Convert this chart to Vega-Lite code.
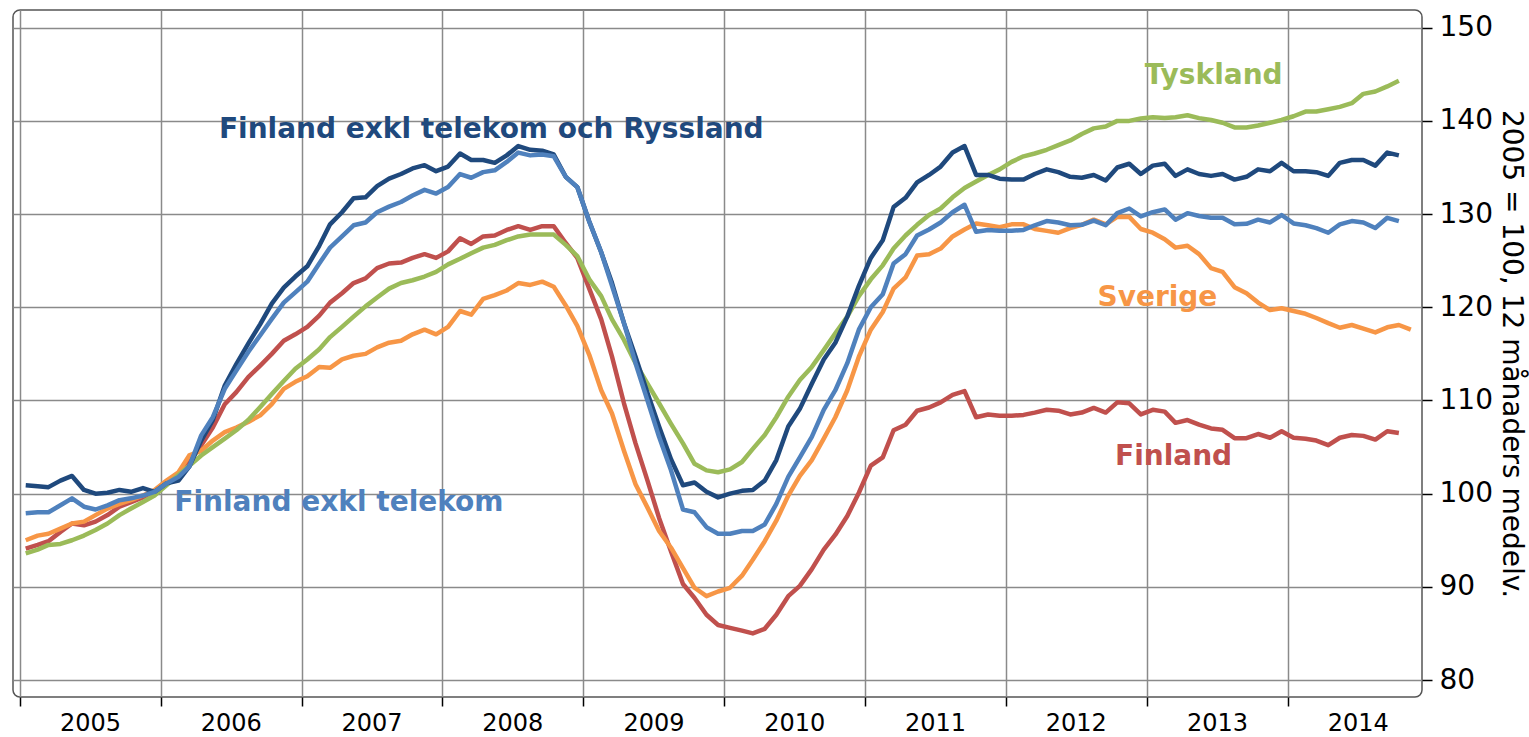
{
 "$schema": "https://vega.github.io/schema/vega-lite/v6.json",
 "width": 1409,
 "height": 687,
 "autosize": {"type": "none"},
 "padding": {"left": 13, "top": 10, "right": 107, "bottom": 40},
 "background": "white",
 "config": {"view": {"stroke": "#555555", "strokeWidth": 1.5, "cornerRadius": 7}, "font": "DejaVu Sans"},
 "datasets": {
  "fi": [
   {"d":"2005-01-16","v":94.1},{"d":"2005-02-16","v":94.5},{"d":"2005-03-16","v":94.9},{"d":"2005-04-16","v":95.9},{"d":"2005-05-16","v":96.8},{"d":"2005-06-16","v":96.6},{"d":"2005-07-16","v":97.0},{"d":"2005-08-16","v":97.7},{"d":"2005-09-16","v":98.6},{"d":"2005-10-16","v":99.1},{"d":"2005-11-16","v":99.6},{"d":"2005-12-16","v":100.3},
   {"d":"2006-01-16","v":101.1},{"d":"2006-02-16","v":102.0},{"d":"2006-03-16","v":103.4},{"d":"2006-04-16","v":105.2},{"d":"2006-05-16","v":107.1},{"d":"2006-06-16","v":109.6},{"d":"2006-07-16","v":110.9},{"d":"2006-08-16","v":112.5},{"d":"2006-09-16","v":113.75},{"d":"2006-10-16","v":115.0},{"d":"2006-11-16","v":116.4},{"d":"2006-12-16","v":117.1},
   {"d":"2007-01-16","v":117.9},{"d":"2007-02-16","v":119.1},{"d":"2007-03-16","v":120.5},{"d":"2007-04-16","v":121.5},{"d":"2007-05-16","v":122.6},{"d":"2007-06-16","v":123.1},{"d":"2007-07-16","v":124.2},{"d":"2007-08-16","v":124.7},{"d":"2007-09-16","v":124.8},{"d":"2007-10-16","v":125.3},{"d":"2007-11-16","v":125.7},{"d":"2007-12-16","v":125.3},
   {"d":"2008-01-16","v":126.0},{"d":"2008-02-16","v":127.4},{"d":"2008-03-16","v":126.8},{"d":"2008-04-16","v":127.6},{"d":"2008-05-16","v":127.7},{"d":"2008-06-16","v":128.3},{"d":"2008-07-16","v":128.7},{"d":"2008-08-16","v":128.3},{"d":"2008-09-16","v":128.7},{"d":"2008-10-16","v":128.7},{"d":"2008-11-16","v":126.9},{"d":"2008-12-16","v":125.3},
   {"d":"2009-01-16","v":122.0},{"d":"2009-02-16","v":118.7},{"d":"2009-03-16","v":114.7},{"d":"2009-04-16","v":109.7},{"d":"2009-05-16","v":105.4},{"d":"2009-06-16","v":101.4},{"d":"2009-07-16","v":97.4},{"d":"2009-08-16","v":93.8},{"d":"2009-09-16","v":90.3},{"d":"2009-10-16","v":88.8},{"d":"2009-11-16","v":87.0},{"d":"2009-12-16","v":85.9},
   {"d":"2010-01-16","v":85.6},{"d":"2010-02-16","v":85.3},{"d":"2010-03-16","v":85.0},{"d":"2010-04-16","v":85.5},{"d":"2010-05-16","v":87.0},{"d":"2010-06-16","v":89.0},{"d":"2010-07-16","v":90.1},{"d":"2010-08-16","v":91.9},{"d":"2010-09-16","v":94.0},{"d":"2010-10-16","v":95.6},{"d":"2010-11-16","v":97.6},{"d":"2010-12-16","v":100.1},
   {"d":"2011-01-16","v":103.0},{"d":"2011-02-16","v":103.9},{"d":"2011-03-16","v":106.8},{"d":"2011-04-16","v":107.4},{"d":"2011-05-16","v":108.9},{"d":"2011-06-16","v":109.25},{"d":"2011-07-16","v":109.8},{"d":"2011-08-16","v":110.6},{"d":"2011-09-16","v":111.0},{"d":"2011-10-16","v":108.2},{"d":"2011-11-16","v":108.5},{"d":"2011-12-16","v":108.35},
   {"d":"2012-01-16","v":108.35},{"d":"2012-02-16","v":108.45},{"d":"2012-03-16","v":108.7},{"d":"2012-04-16","v":109.0},{"d":"2012-05-16","v":108.9},{"d":"2012-06-16","v":108.5},{"d":"2012-07-16","v":108.7},{"d":"2012-08-16","v":109.2},{"d":"2012-09-16","v":108.7},{"d":"2012-10-16","v":109.8},{"d":"2012-11-16","v":109.7},{"d":"2012-12-16","v":108.5},
   {"d":"2013-01-16","v":109.0},{"d":"2013-02-16","v":108.8},{"d":"2013-03-16","v":107.6},{"d":"2013-04-16","v":107.9},{"d":"2013-05-16","v":107.4},{"d":"2013-06-16","v":107.0},{"d":"2013-07-16","v":106.85},{"d":"2013-08-16","v":105.95},{"d":"2013-09-16","v":105.95},{"d":"2013-10-16","v":106.4},{"d":"2013-11-16","v":106.0},{"d":"2013-12-16","v":106.7},
   {"d":"2014-01-16","v":106.0},{"d":"2014-02-16","v":105.9},{"d":"2014-03-16","v":105.7},{"d":"2014-04-16","v":105.2},{"d":"2014-05-16","v":106.0},{"d":"2014-06-16","v":106.3},{"d":"2014-07-16","v":106.2},{"d":"2014-08-16","v":105.8},{"d":"2014-09-16","v":106.7},{"d":"2014-10-16","v":106.5}
  ],
  "se": [
   {"d":"2005-01-16","v":95.0},{"d":"2005-02-16","v":95.5},{"d":"2005-03-16","v":95.7},{"d":"2005-04-16","v":96.25},{"d":"2005-05-16","v":96.8},{"d":"2005-06-16","v":97.0},{"d":"2005-07-16","v":97.7},{"d":"2005-08-16","v":98.4},{"d":"2005-09-16","v":98.9},{"d":"2005-10-16","v":99.3},{"d":"2005-11-16","v":99.8},{"d":"2005-12-16","v":100.4},
   {"d":"2006-01-16","v":101.4},{"d":"2006-02-16","v":102.3},{"d":"2006-03-16","v":104.1},{"d":"2006-04-16","v":104.6},{"d":"2006-05-16","v":105.7},{"d":"2006-06-16","v":106.6},{"d":"2006-07-16","v":107.1},{"d":"2006-08-16","v":107.7},{"d":"2006-09-16","v":108.4},{"d":"2006-10-16","v":109.6},{"d":"2006-11-16","v":111.25},{"d":"2006-12-16","v":112.0},
   {"d":"2007-01-16","v":112.6},{"d":"2007-02-16","v":113.6},{"d":"2007-03-16","v":113.5},{"d":"2007-04-16","v":114.4},{"d":"2007-05-16","v":114.8},{"d":"2007-06-16","v":115.0},{"d":"2007-07-16","v":115.7},{"d":"2007-08-16","v":116.2},{"d":"2007-09-16","v":116.4},{"d":"2007-10-16","v":117.1},{"d":"2007-11-16","v":117.6},{"d":"2007-12-16","v":117.1},
   {"d":"2008-01-16","v":117.9},{"d":"2008-02-16","v":119.6},{"d":"2008-03-16","v":119.2},{"d":"2008-04-16","v":120.9},{"d":"2008-05-16","v":121.3},{"d":"2008-06-16","v":121.8},{"d":"2008-07-16","v":122.6},{"d":"2008-08-16","v":122.4},{"d":"2008-09-16","v":122.75},{"d":"2008-10-16","v":122.2},{"d":"2008-11-16","v":120.2},{"d":"2008-12-16","v":118.0},
   {"d":"2009-01-16","v":114.9},{"d":"2009-02-16","v":111.1},{"d":"2009-03-16","v":108.6},{"d":"2009-04-16","v":104.6},{"d":"2009-05-16","v":101.0},{"d":"2009-06-16","v":98.5},{"d":"2009-07-16","v":96.0},{"d":"2009-08-16","v":94.2},{"d":"2009-09-16","v":92.0},{"d":"2009-10-16","v":89.9},{"d":"2009-11-16","v":89.0},{"d":"2009-12-16","v":89.5},
   {"d":"2010-01-16","v":89.9},{"d":"2010-02-16","v":91.2},{"d":"2010-03-16","v":92.9},{"d":"2010-04-16","v":94.9},{"d":"2010-05-16","v":97.1},{"d":"2010-06-16","v":99.8},{"d":"2010-07-16","v":101.9},{"d":"2010-08-16","v":103.6},{"d":"2010-09-16","v":105.9},{"d":"2010-10-16","v":108.2},{"d":"2010-11-16","v":111.1},{"d":"2010-12-16","v":114.7},
   {"d":"2011-01-16","v":117.6},{"d":"2011-02-16","v":119.5},{"d":"2011-03-16","v":122.0},{"d":"2011-04-16","v":123.2},{"d":"2011-05-16","v":125.55},{"d":"2011-06-16","v":125.7},{"d":"2011-07-16","v":126.3},{"d":"2011-08-16","v":127.6},{"d":"2011-09-16","v":128.35},{"d":"2011-10-16","v":129.0},{"d":"2011-11-16","v":128.8},{"d":"2011-12-16","v":128.6},
   {"d":"2012-01-16","v":128.9},{"d":"2012-02-16","v":128.9},{"d":"2012-03-16","v":128.4},{"d":"2012-04-16","v":128.2},{"d":"2012-05-16","v":128.0},{"d":"2012-06-16","v":128.5},{"d":"2012-07-16","v":128.85},{"d":"2012-08-16","v":129.4},{"d":"2012-09-16","v":128.9},{"d":"2012-10-16","v":129.7},{"d":"2012-11-16","v":129.7},{"d":"2012-12-16","v":128.4},
   {"d":"2013-01-16","v":128.0},{"d":"2013-02-16","v":127.3},{"d":"2013-03-16","v":126.4},{"d":"2013-04-16","v":126.6},{"d":"2013-05-16","v":125.7},{"d":"2013-06-16","v":124.2},{"d":"2013-07-16","v":123.8},{"d":"2013-08-16","v":122.15},{"d":"2013-09-16","v":121.5},{"d":"2013-10-16","v":120.5},{"d":"2013-11-16","v":119.7},{"d":"2013-12-16","v":119.9},
   {"d":"2014-01-16","v":119.6},{"d":"2014-02-16","v":119.3},{"d":"2014-03-16","v":118.85},{"d":"2014-04-16","v":118.3},{"d":"2014-05-16","v":117.8},{"d":"2014-06-16","v":118.1},{"d":"2014-07-16","v":117.7},{"d":"2014-08-16","v":117.3},{"d":"2014-09-16","v":117.85},{"d":"2014-10-16","v":118.1},{"d":"2014-11-16","v":117.6}
  ],
  "de": [
   {"d":"2005-01-16","v":93.6},{"d":"2005-02-16","v":94.0},{"d":"2005-03-16","v":94.5},{"d":"2005-04-16","v":94.6},{"d":"2005-05-16","v":95.0},{"d":"2005-06-16","v":95.5},{"d":"2005-07-16","v":96.1},{"d":"2005-08-16","v":96.8},{"d":"2005-09-16","v":97.7},{"d":"2005-10-16","v":98.4},{"d":"2005-11-16","v":99.1},{"d":"2005-12-16","v":99.8},
   {"d":"2006-01-16","v":100.9},{"d":"2006-02-16","v":102.0},{"d":"2006-03-16","v":103.0},{"d":"2006-04-16","v":104.1},{"d":"2006-05-16","v":105.0},{"d":"2006-06-16","v":105.9},{"d":"2006-07-16","v":106.8},{"d":"2006-08-16","v":107.9},{"d":"2006-09-16","v":109.3},{"d":"2006-10-16","v":110.7},{"d":"2006-11-16","v":112.1},{"d":"2006-12-16","v":113.4},
   {"d":"2007-01-16","v":114.4},{"d":"2007-02-16","v":115.5},{"d":"2007-03-16","v":116.8},{"d":"2007-04-16","v":117.9},{"d":"2007-05-16","v":119.0},{"d":"2007-06-16","v":120.1},{"d":"2007-07-16","v":121.05},{"d":"2007-08-16","v":122.0},{"d":"2007-09-16","v":122.6},{"d":"2007-10-16","v":122.9},{"d":"2007-11-16","v":123.3},{"d":"2007-12-16","v":123.8},
   {"d":"2008-01-16","v":124.6},{"d":"2008-02-16","v":125.2},{"d":"2008-03-16","v":125.8},{"d":"2008-04-16","v":126.4},{"d":"2008-05-16","v":126.7},{"d":"2008-06-16","v":127.2},{"d":"2008-07-16","v":127.6},{"d":"2008-08-16","v":127.8},{"d":"2008-09-16","v":127.8},{"d":"2008-10-16","v":127.8},{"d":"2008-11-16","v":126.7},{"d":"2008-12-16","v":125.5},
   {"d":"2009-01-16","v":123.0},{"d":"2009-02-16","v":121.2},{"d":"2009-03-16","v":118.7},{"d":"2009-04-16","v":116.5},{"d":"2009-05-16","v":114.0},{"d":"2009-06-16","v":111.8},{"d":"2009-07-16","v":109.7},{"d":"2009-08-16","v":107.5},{"d":"2009-09-16","v":105.4},{"d":"2009-10-16","v":103.2},{"d":"2009-11-16","v":102.5},{"d":"2009-12-16","v":102.3},
   {"d":"2010-01-16","v":102.6},{"d":"2010-02-16","v":103.4},{"d":"2010-03-16","v":104.8},{"d":"2010-04-16","v":106.3},{"d":"2010-05-16","v":108.2},{"d":"2010-06-16","v":110.4},{"d":"2010-07-16","v":112.2},{"d":"2010-08-16","v":113.6},{"d":"2010-09-16","v":115.4},{"d":"2010-10-16","v":117.2},{"d":"2010-11-16","v":119.0},{"d":"2010-12-16","v":121.2},
   {"d":"2011-01-16","v":123.0},{"d":"2011-02-16","v":124.5},{"d":"2011-03-16","v":126.3},{"d":"2011-04-16","v":127.7},{"d":"2011-05-16","v":128.85},{"d":"2011-06-16","v":129.9},{"d":"2011-07-16","v":130.6},{"d":"2011-08-16","v":131.8},{"d":"2011-09-16","v":132.8},{"d":"2011-10-16","v":133.5},{"d":"2011-11-16","v":134.2},{"d":"2011-12-16","v":134.8},
   {"d":"2012-01-16","v":135.6},{"d":"2012-02-16","v":136.2},{"d":"2012-03-16","v":136.5},{"d":"2012-04-16","v":136.9},{"d":"2012-05-16","v":137.4},{"d":"2012-06-16","v":137.9},{"d":"2012-07-16","v":138.6},{"d":"2012-08-16","v":139.2},{"d":"2012-09-16","v":139.4},{"d":"2012-10-16","v":140.0},{"d":"2012-11-16","v":140.0},{"d":"2012-12-16","v":140.25},
   {"d":"2013-01-16","v":140.4},{"d":"2013-02-16","v":140.3},{"d":"2013-03-16","v":140.4},{"d":"2013-04-16","v":140.6},{"d":"2013-05-16","v":140.3},{"d":"2013-06-16","v":140.1},{"d":"2013-07-16","v":139.8},{"d":"2013-08-16","v":139.3},{"d":"2013-09-16","v":139.3},{"d":"2013-10-16","v":139.5},{"d":"2013-11-16","v":139.8},{"d":"2013-12-16","v":140.1},
   {"d":"2014-01-16","v":140.5},{"d":"2014-02-16","v":141.0},{"d":"2014-03-16","v":141.0},{"d":"2014-04-16","v":141.25},{"d":"2014-05-16","v":141.5},{"d":"2014-06-16","v":141.9},{"d":"2014-07-16","v":142.9},{"d":"2014-08-16","v":143.15},{"d":"2014-09-16","v":143.7},{"d":"2014-10-16","v":144.3}
  ],
  "fr": [
   {"d":"2005-01-16","v":100.9},{"d":"2005-02-16","v":100.8},{"d":"2005-03-16","v":100.7},{"d":"2005-04-16","v":101.4},{"d":"2005-05-16","v":101.9},{"d":"2005-06-16","v":100.4},{"d":"2005-07-16","v":100.0},{"d":"2005-08-16","v":100.1},{"d":"2005-09-16","v":100.4},{"d":"2005-10-16","v":100.2},{"d":"2005-11-16","v":100.6},{"d":"2005-12-16","v":100.2},
   {"d":"2006-01-16","v":101.1},{"d":"2006-02-16","v":101.4},{"d":"2006-03-16","v":102.9},{"d":"2006-04-16","v":105.7},{"d":"2006-05-16","v":107.9},{"d":"2006-06-16","v":111.6},{"d":"2006-07-16","v":113.9},{"d":"2006-08-16","v":116.1},{"d":"2006-09-16","v":118.2},{"d":"2006-10-16","v":120.4},{"d":"2006-11-16","v":122.1},{"d":"2006-12-16","v":123.3},
   {"d":"2007-01-16","v":124.4},{"d":"2007-02-16","v":126.6},{"d":"2007-03-16","v":128.9},{"d":"2007-04-16","v":130.2},{"d":"2007-05-16","v":131.7},{"d":"2007-06-16","v":131.8},{"d":"2007-07-16","v":133.0},{"d":"2007-08-16","v":133.8},{"d":"2007-09-16","v":134.3},{"d":"2007-10-16","v":134.9},{"d":"2007-11-16","v":135.25},{"d":"2007-12-16","v":134.6},
   {"d":"2008-01-16","v":135.1},{"d":"2008-02-16","v":136.5},{"d":"2008-03-16","v":135.8},{"d":"2008-04-16","v":135.8},{"d":"2008-05-16","v":135.5},{"d":"2008-06-16","v":136.3},{"d":"2008-07-16","v":137.3},{"d":"2008-08-16","v":136.9},{"d":"2008-09-16","v":136.8},{"d":"2008-10-16","v":136.4},{"d":"2008-11-16","v":134.0},{"d":"2008-12-16","v":132.9},
   {"d":"2009-01-16","v":129.2},{"d":"2009-02-16","v":125.9},{"d":"2009-03-16","v":122.6},{"d":"2009-04-16","v":118.3},{"d":"2009-05-16","v":114.7},{"d":"2009-06-16","v":110.8},{"d":"2009-07-16","v":107.2},{"d":"2009-08-16","v":103.7},{"d":"2009-09-16","v":100.9},{"d":"2009-10-16","v":101.2},{"d":"2009-11-16","v":100.2},{"d":"2009-12-16","v":99.6},
   {"d":"2010-01-16","v":100.0},{"d":"2010-02-16","v":100.3},{"d":"2010-03-16","v":100.4},{"d":"2010-04-16","v":101.4},{"d":"2010-05-16","v":103.6},{"d":"2010-06-16","v":107.2},{"d":"2010-07-16","v":109.1},{"d":"2010-08-16","v":111.8},{"d":"2010-09-16","v":114.4},{"d":"2010-10-16","v":116.2},{"d":"2010-11-16","v":119.0},{"d":"2010-12-16","v":122.3},
   {"d":"2011-01-16","v":125.3},{"d":"2011-02-16","v":127.2},{"d":"2011-03-16","v":130.75},{"d":"2011-04-16","v":131.75},{"d":"2011-05-16","v":133.4},{"d":"2011-06-16","v":134.2},{"d":"2011-07-16","v":135.1},{"d":"2011-08-16","v":136.6},{"d":"2011-09-16","v":137.3},{"d":"2011-10-16","v":134.2},{"d":"2011-11-16","v":134.2},{"d":"2011-12-16","v":133.8},
   {"d":"2012-01-16","v":133.7},{"d":"2012-02-16","v":133.7},{"d":"2012-03-16","v":134.3},{"d":"2012-04-16","v":134.8},{"d":"2012-05-16","v":134.5},{"d":"2012-06-16","v":134.0},{"d":"2012-07-16","v":133.9},{"d":"2012-08-16","v":134.2},{"d":"2012-09-16","v":133.6},{"d":"2012-10-16","v":135.0},{"d":"2012-11-16","v":135.4},{"d":"2012-12-16","v":134.3},
   {"d":"2013-01-16","v":135.2},{"d":"2013-02-16","v":135.4},{"d":"2013-03-16","v":134.1},{"d":"2013-04-16","v":134.8},{"d":"2013-05-16","v":134.3},{"d":"2013-06-16","v":134.1},{"d":"2013-07-16","v":134.3},{"d":"2013-08-16","v":133.7},{"d":"2013-09-16","v":134.0},{"d":"2013-10-16","v":134.8},{"d":"2013-11-16","v":134.6},{"d":"2013-12-16","v":135.5},
   {"d":"2014-01-16","v":134.6},{"d":"2014-02-16","v":134.6},{"d":"2014-03-16","v":134.5},{"d":"2014-04-16","v":134.1},{"d":"2014-05-16","v":135.5},{"d":"2014-06-16","v":135.8},{"d":"2014-07-16","v":135.8},{"d":"2014-08-16","v":135.2},{"d":"2014-09-16","v":136.6},{"d":"2014-10-16","v":136.3}
  ],
  "ft": [
   {"d":"2005-01-16","v":97.9},{"d":"2005-02-16","v":98.0},{"d":"2005-03-16","v":98.0},{"d":"2005-04-16","v":98.75},{"d":"2005-05-16","v":99.5},{"d":"2005-06-16","v":98.6},{"d":"2005-07-16","v":98.3},{"d":"2005-08-16","v":98.75},{"d":"2005-09-16","v":99.3},{"d":"2005-10-16","v":99.5},{"d":"2005-11-16","v":99.8},{"d":"2005-12-16","v":100.2},
   {"d":"2006-01-16","v":101.1},{"d":"2006-02-16","v":101.8},{"d":"2006-03-16","v":102.9},{"d":"2006-04-16","v":106.25},{"d":"2006-05-16","v":108.2},{"d":"2006-06-16","v":111.25},{"d":"2006-07-16","v":113.2},{"d":"2006-08-16","v":115.2},{"d":"2006-09-16","v":117.0},{"d":"2006-10-16","v":118.75},{"d":"2006-11-16","v":120.5},{"d":"2006-12-16","v":121.6},
   {"d":"2007-01-16","v":122.75},{"d":"2007-02-16","v":124.7},{"d":"2007-03-16","v":126.4},{"d":"2007-04-16","v":127.6},{"d":"2007-05-16","v":128.8},{"d":"2007-06-16","v":129.1},{"d":"2007-07-16","v":130.2},{"d":"2007-08-16","v":130.8},{"d":"2007-09-16","v":131.3},{"d":"2007-10-16","v":132.0},{"d":"2007-11-16","v":132.6},{"d":"2007-12-16","v":132.2},
   {"d":"2008-01-16","v":132.9},{"d":"2008-02-16","v":134.3},{"d":"2008-03-16","v":133.9},{"d":"2008-04-16","v":134.5},{"d":"2008-05-16","v":134.7},{"d":"2008-06-16","v":135.6},{"d":"2008-07-16","v":136.6},{"d":"2008-08-16","v":136.3},{"d":"2008-09-16","v":136.4},{"d":"2008-10-16","v":136.2},{"d":"2008-11-16","v":134.0},{"d":"2008-12-16","v":132.9},
   {"d":"2009-01-16","v":129.2},{"d":"2009-02-16","v":125.9},{"d":"2009-03-16","v":122.3},{"d":"2009-04-16","v":118.3},{"d":"2009-05-16","v":114.0},{"d":"2009-06-16","v":110.0},{"d":"2009-07-16","v":106.1},{"d":"2009-08-16","v":102.5},{"d":"2009-09-16","v":98.3},{"d":"2009-10-16","v":98.0},{"d":"2009-11-16","v":96.4},{"d":"2009-12-16","v":95.7},
   {"d":"2010-01-16","v":95.7},{"d":"2010-02-16","v":96.0},{"d":"2010-03-16","v":96.0},{"d":"2010-04-16","v":96.7},{"d":"2010-05-16","v":98.9},{"d":"2010-06-16","v":101.8},{"d":"2010-07-16","v":103.9},{"d":"2010-08-16","v":106.1},{"d":"2010-09-16","v":109.0},{"d":"2010-10-16","v":111.1},{"d":"2010-11-16","v":114.0},{"d":"2010-12-16","v":117.6},
   {"d":"2011-01-16","v":120.0},{"d":"2011-02-16","v":121.4},{"d":"2011-03-16","v":124.7},{"d":"2011-04-16","v":125.7},{"d":"2011-05-16","v":127.7},{"d":"2011-06-16","v":128.35},{"d":"2011-07-16","v":129.1},{"d":"2011-08-16","v":130.2},{"d":"2011-09-16","v":131.0},{"d":"2011-10-16","v":128.1},{"d":"2011-11-16","v":128.3},{"d":"2011-12-16","v":128.2},
   {"d":"2012-01-16","v":128.2},{"d":"2012-02-16","v":128.3},{"d":"2012-03-16","v":128.8},{"d":"2012-04-16","v":129.25},{"d":"2012-05-16","v":129.1},{"d":"2012-06-16","v":128.8},{"d":"2012-07-16","v":128.85},{"d":"2012-08-16","v":129.3},{"d":"2012-09-16","v":128.8},{"d":"2012-10-16","v":130.1},{"d":"2012-11-16","v":130.6},{"d":"2012-12-16","v":129.75},
   {"d":"2013-01-16","v":130.2},{"d":"2013-02-16","v":130.5},{"d":"2013-03-16","v":129.4},{"d":"2013-04-16","v":130.1},{"d":"2013-05-16","v":129.8},{"d":"2013-06-16","v":129.6},{"d":"2013-07-16","v":129.6},{"d":"2013-08-16","v":128.9},{"d":"2013-09-16","v":128.96},{"d":"2013-10-16","v":129.4},{"d":"2013-11-16","v":129.1},{"d":"2013-12-16","v":129.9},
   {"d":"2014-01-16","v":129.0},{"d":"2014-02-16","v":128.8},{"d":"2014-03-16","v":128.5},{"d":"2014-04-16","v":128.0},{"d":"2014-05-16","v":128.9},{"d":"2014-06-16","v":129.25},{"d":"2014-07-16","v":129.1},{"d":"2014-08-16","v":128.5},{"d":"2014-09-16","v":129.6},{"d":"2014-10-16","v":129.25}
  ],
  "lab": [
   {"d":"2008-05-07","v":138.13,"s":"Finland exkl telekom och Ryssland"},
   {"d":"2013-06-23","v":143.96,"s":"Tyskland"},
   {"d":"2013-01-28","v":120.15,"s":"Sverige"},
   {"d":"2013-03-11","v":103.07,"s":"Finland"},
   {"d":"2007-04-08","v":98.17,"s":"Finland exkl telekom"}
  ]
 },
 "encoding": {
  "x": {
   "field": "d", "type": "temporal",
   "scale": {"type": "utc", "domain": [{"year": 2004, "month": 12, "date": 14, "utc": true}, {"year": 2014, "month": 12, "date": 15, "utc": true}]},
   "axis": {
    "values": [
     {"year": 2005, "month": 1, "date": 1, "utc": true}, {"year": 2006, "month": 1, "date": 1, "utc": true},
     {"year": 2007, "month": 1, "date": 1, "utc": true}, {"year": 2008, "month": 1, "date": 1, "utc": true},
     {"year": 2009, "month": 1, "date": 1, "utc": true}, {"year": 2010, "month": 1, "date": 1, "utc": true},
     {"year": 2011, "month": 1, "date": 1, "utc": true}, {"year": 2012, "month": 1, "date": 1, "utc": true},
     {"year": 2013, "month": 1, "date": 1, "utc": true}, {"year": 2014, "month": 1, "date": 1, "utc": true}
    ],
    "format": "%Y", "title": null, "domain": false,
    "labelOffset": 70, "labelFontSize": 24, "labelColor": "#000000", "labelFont": "DejaVu Sans",
    "labelBaseline": "alphabetic", "labelPadding": 24, "labelFlush": false, "labelOverlap": false,
    "tickSize": 9, "tickColor": "#000000", "tickWidth": 1.5,
    "grid": true, "gridColor": "#8a8a8a", "gridWidth": 1.5
   }
  },
  "y": {
   "field": "v", "type": "quantitative",
   "scale": {"domain": [78.18, 151.9], "nice": false, "zero": false},
   "axis": {
    "orient": "right", "values": [80, 90, 100, 110, 120, 130, 140, 150], "domain": false,
    "labelFontSize": 28, "labelColor": "#000000", "labelFont": "DejaVu Sans", "labelPadding": 7, "labelFlush": false, "labelOverlap": false,
    "tickSize": 10, "tickColor": "#000000", "tickWidth": 1.5,
    "grid": true, "gridColor": "#8a8a8a", "gridWidth": 1.5,
    "title": "2005 = 100, 12 månaders medelv.", "titleFont": "DejaVu Sans", "titleFontSize": 28, "titleFontWeight": "normal",
    "titleColor": "#000000", "titleAngle": 90, "titleBaseline": "alphabetic", "titlePadding": 10
   }
  }
 },
 "layer": [
  {"data": {"name": "fi"}, "mark": {"type": "line", "color": "#C0504D", "strokeWidth": 4.5, "strokeJoin": "round"}},
  {"data": {"name": "se"}, "mark": {"type": "line", "color": "#F79646", "strokeWidth": 4.5, "strokeJoin": "round"}},
  {"data": {"name": "de"}, "mark": {"type": "line", "color": "#9BBB59", "strokeWidth": 4.5, "strokeJoin": "round"}},
  {"data": {"name": "fr"}, "mark": {"type": "line", "color": "#1F497D", "strokeWidth": 4.5, "strokeJoin": "round"}},
  {"data": {"name": "ft"}, "mark": {"type": "line", "color": "#4F81BD", "strokeWidth": 4.5, "strokeJoin": "round"}},
  {
   "data": {"name": "lab"},
   "mark": {"type": "text", "font": "DejaVu Sans", "fontSize": 28, "fontWeight": "bold", "align": "center", "baseline": "alphabetic"},
   "encoding": {
    "text": {"field": "s"},
    "color": {
     "field": "s", "type": "nominal", "legend": null,
     "scale": {
      "domain": ["Finland exkl telekom och Ryssland", "Tyskland", "Sverige", "Finland", "Finland exkl telekom"],
      "range": ["#1F497D", "#9BBB59", "#F79646", "#C0504D", "#4F81BD"]
     }
    }
   }
  }
 ]
}
